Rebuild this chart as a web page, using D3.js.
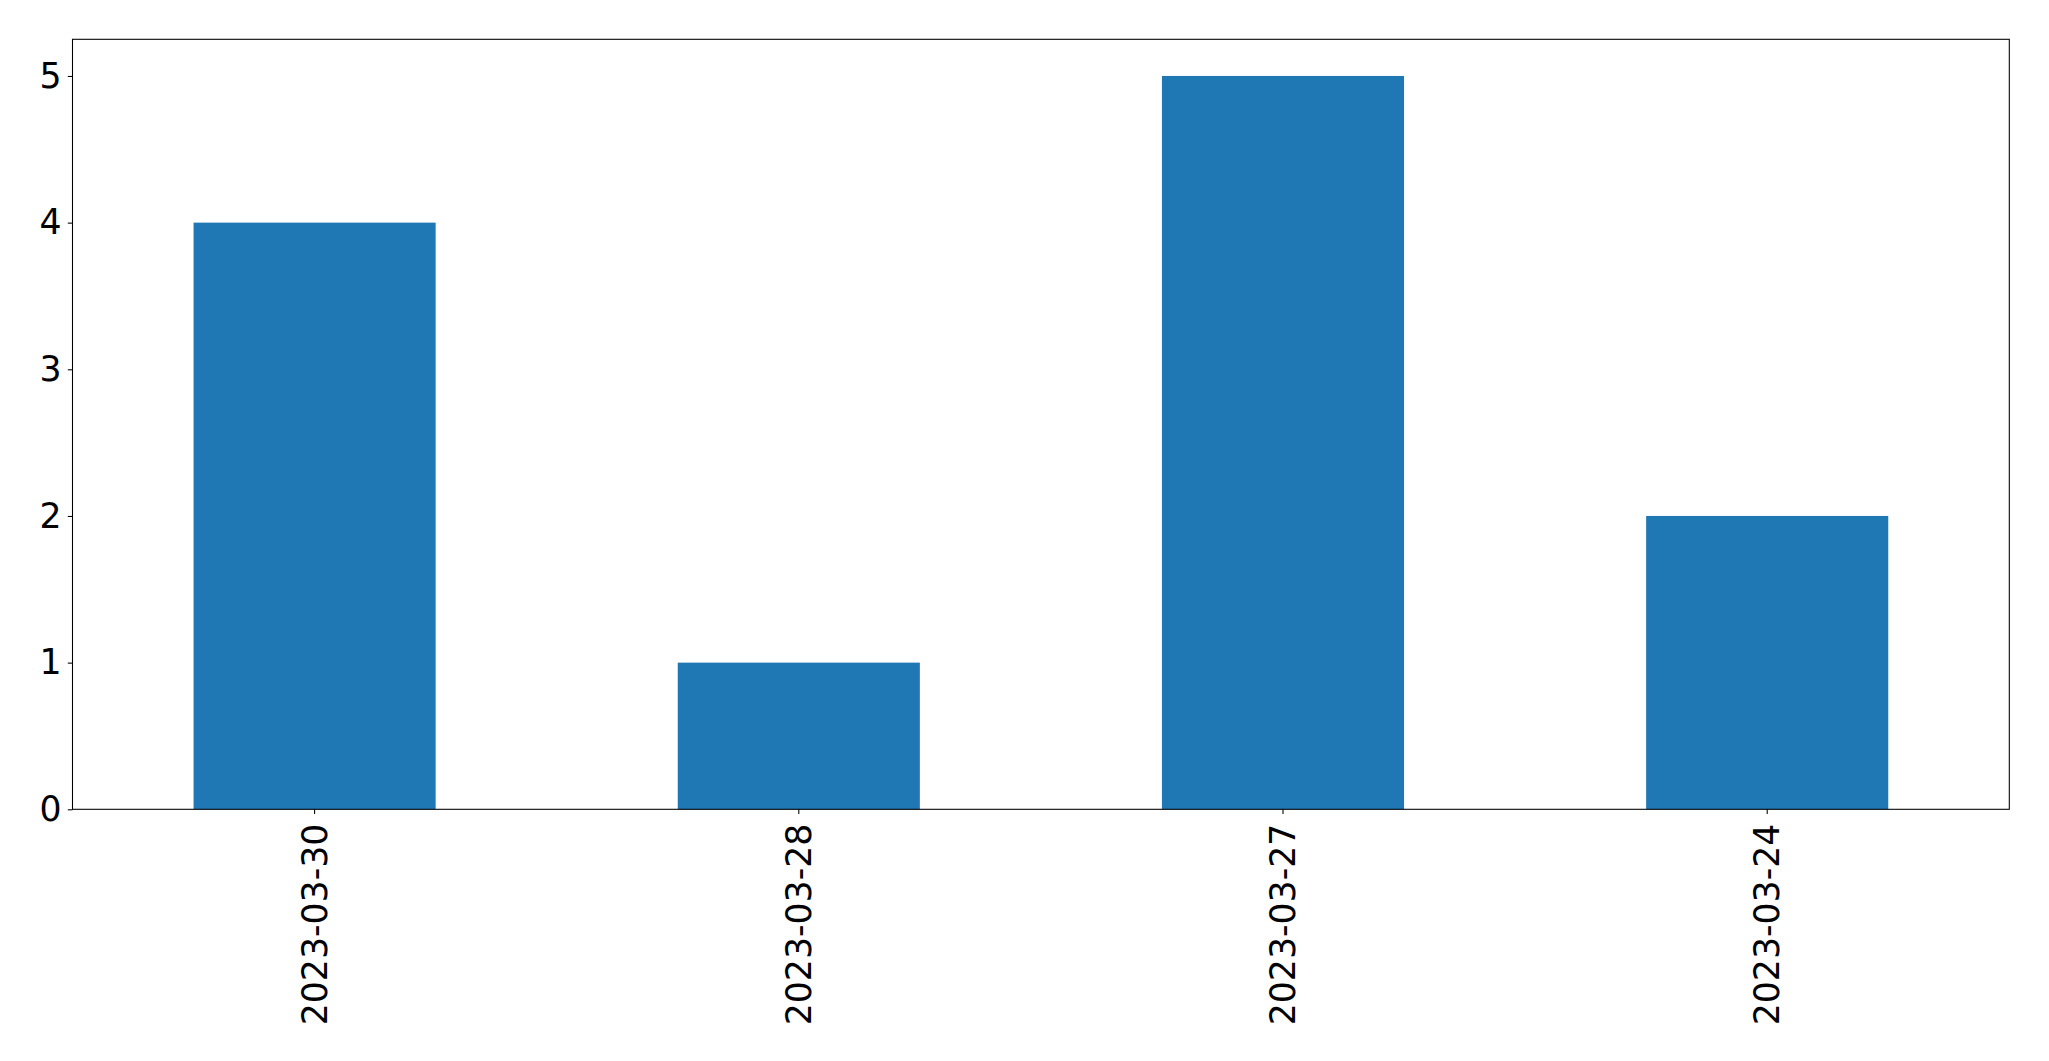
<!DOCTYPE html>
<html>
<head>
<meta charset="utf-8">
<script src="https://cdn.jsdelivr.net/npm/d3@7"></script>
<style>
  html, body { margin: 0; padding: 0; background: #fff; }
  svg { display: block; }
</style>
</head>
<body>
<svg id="chart" width="2049" height="1061"></svg>
<script>
const categories = ["2023-03-30", "2023-03-28", "2023-03-27", "2023-03-24"];
const values = [4, 1, 5, 2];
const yTicks = [0, 1, 2, 3, 4, 5];

const width = 2049, height = 1061;
const margin = { left: 72.5, right: 2049 - 2009.3, top: 39.3, bottom: 1061 - 809.3 };
const fontSize = 34.7;
const tickLen = 4.7, tickPad = 4.7;

const svg = d3.select("#chart");
const x = d3.scaleBand()
  .domain(categories)
  .range([margin.left, width - margin.right])
  .paddingInner(0.5)
  .paddingOuter(0.25);
const y = d3.scaleLinear()
  .domain([0, d3.max(values) * 1.05])
  .range([height - margin.bottom, margin.top]);

svg.append("g")
  .selectAll("rect")
  .data(values)
  .join("rect")
  .attr("x", (d, i) => x(categories[i]))
  .attr("width", x.bandwidth())
  .attr("y", d => y(d))
  .attr("height", d => y(0) - y(d))
  .attr("fill", "#1f77b4");

const yAxis = svg.append("g")
  .attr("transform", `translate(${margin.left},0)`)
  .call(d3.axisLeft(y).tickValues(yTicks).tickFormat(d3.format("d")).tickSize(tickLen).tickPadding(tickPad + 1.5));
yAxis.select(".domain").remove();
yAxis.selectAll("line").attr("stroke", "#000").attr("stroke-width", 1.07);
yAxis.selectAll("text")
  .attr("font-family", "DejaVu Sans")
  .attr("font-size", fontSize)
  .attr("fill", "#000");

const xAxis = svg.append("g")
  .attr("transform", `translate(0,${height - margin.bottom})`)
  .call(d3.axisBottom(x).tickSize(tickLen).tickPadding(tickPad));
xAxis.select(".domain").remove();
xAxis.selectAll("line").attr("stroke", "#000").attr("stroke-width", 1.07);
xAxis.selectAll("text")
  .attr("font-family", "DejaVu Sans")
  .attr("font-size", fontSize)
  .attr("fill", "#000")
  .attr("transform", `rotate(-90)`)
  .attr("x", -(tickLen + tickPad + 5))
  .attr("y", 0)
  .attr("dy", "0.35em")
  .attr("text-anchor", "end");

svg.append("rect")
  .attr("x", margin.left)
  .attr("y", margin.top)
  .attr("width", width - margin.right - margin.left)
  .attr("height", height - margin.bottom - margin.top)
  .attr("fill", "none")
  .attr("stroke", "#000")
  .attr("stroke-width", 1.07);
</script>
</body>
</html>
